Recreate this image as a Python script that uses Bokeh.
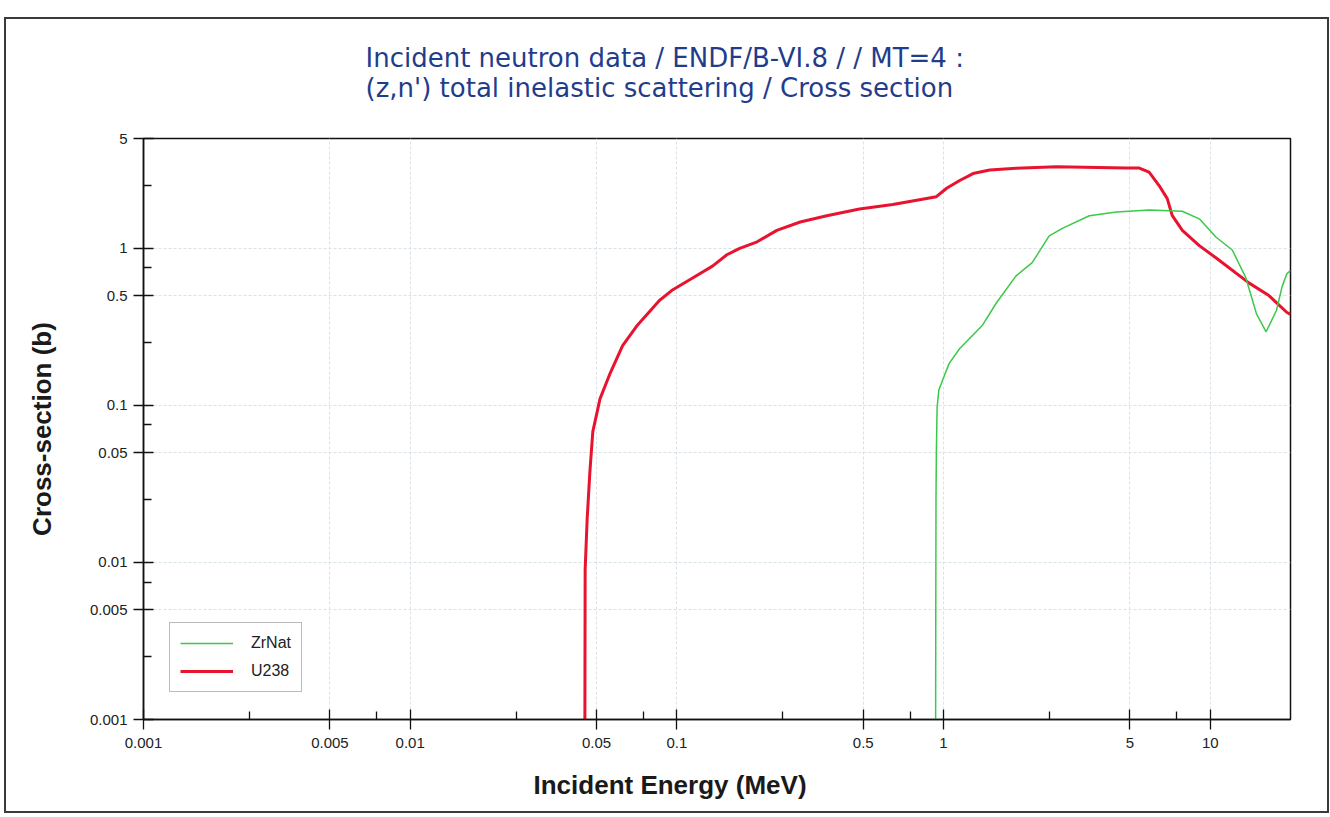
from bokeh.plotting import figure
from bokeh.models import FixedTicker, CustomJSTickFormatter, Legend, LegendItem, Title
from bokeh.embed import file_html
from bokeh.resources import INLINE

# ---------------- data ----------------
title_line1 = "Incident neutron data / ENDF/B-VI.8 / / MT=4 :"
title_line2 = "(z,n') total inelastic scattering / Cross section"
x_label = "Incident Energy (MeV)"
y_label = "Cross-section (b)"

x_major = [0.001, 0.005, 0.01, 0.05, 0.1, 0.5, 1, 5, 10]
x_minor = [0.0025, 0.0075, 0.025, 0.075, 0.25, 0.75, 2.5, 7.5]
y_major = [0.001, 0.005, 0.01, 0.05, 0.1, 0.5, 1, 5]
y_minor = [0.0025, 0.0075, 0.025, 0.075, 0.25, 0.75, 2.5]

# U238 (red)
u238_e = [0.0452, 0.0453, 0.0461, 0.0472, 0.0484, 0.0515, 0.0562, 0.0626, 0.0707,
          0.086, 0.0966, 0.115, 0.136, 0.154, 0.172, 0.2, 0.237, 0.29, 0.365, 0.484,
          0.645, 0.813, 0.94, 1.03, 1.15, 1.29, 1.49, 1.87, 2.65, 4.84, 5.42, 5.9,
          6.44, 6.9, 7.2, 7.86, 9.1, 10.5, 14.0, 16.6, 19.4, 20.0]
u238_xs = [0.001, 0.009, 0.019, 0.038, 0.068, 0.11, 0.16, 0.24, 0.32,
           0.465, 0.545, 0.65, 0.77, 0.91, 1.0, 1.1, 1.3, 1.47, 1.61, 1.78,
           1.9, 2.04, 2.13, 2.42, 2.7, 2.99, 3.15, 3.23, 3.3, 3.24, 3.24, 3.05,
           2.5, 2.07, 1.62, 1.3, 1.04, 0.87, 0.60, 0.50, 0.39, 0.38]

# ZrNat (green)
zr_e = [0.934, 0.935, 0.937, 0.940, 0.946, 0.96, 1.0, 1.05, 1.15, 1.40, 1.58, 1.87,
        2.15, 2.49, 2.79, 3.52, 4.45, 5.9, 7.85, 9.1, 10.5, 12.1, 13.6, 14.9, 16.2,
        17.7, 18.6, 19.4, 20.0]
zr_xs = [0.001, 0.004, 0.026, 0.05, 0.097, 0.125, 0.15, 0.185, 0.23, 0.324, 0.45, 0.667,
         0.81, 1.2, 1.34, 1.61, 1.70, 1.75, 1.72, 1.54, 1.18, 0.975, 0.65, 0.384, 0.294,
         0.40, 0.57, 0.69, 0.72]

FONT = "Liberation Sans"
EDGE = "#3a3a3a"

frame_css = {
    "background-image": ", ".join([f"linear-gradient({EDGE}, {EDGE})"] * 4),
    "background-position": "5px 17px, 5px 811px, 4px 17px, 1327px 17px",
    "background-size": "1324px 2px, 1324px 2px, 2px 796px, 2px 796px",
    "background-repeat": "no-repeat",
}

p = figure(width=1330, height=817, x_axis_type="log", y_axis_type="log",
           x_range=(0.001, 20), y_range=(0.001, 5),
           output_backend="svg", toolbar_location=None,
           min_border_left=143, min_border_right=40, min_border_top=138, min_border_bottom=97,
           styles=frame_css)
p.background_fill_color = "white"
p.border_fill_color = None
p.outline_line_color = "#111111"
p.outline_line_width = 1.5

fmt = CustomJSTickFormatter(code="return String(Number(tick.toPrecision(3)));")

for ax, maj, mnr in ((p.xaxis[0], x_major, x_minor), (p.yaxis[0], y_major, y_minor)):
    ax.ticker = FixedTicker(ticks=maj, minor_ticks=mnr)
    ax.formatter = fmt
    ax.axis_line_color = "#111111"
    ax.axis_line_width = 1.5
    ax.major_tick_line_color = "#111111"
    ax.minor_tick_line_color = "#111111"
    ax.major_tick_line_width = 1.3
    ax.minor_tick_line_width = 1.3
    ax.major_tick_in = 10
    ax.major_tick_out = 10
    ax.minor_tick_in = 8
    ax.minor_tick_out = 0
    ax.major_label_text_font = FONT
    ax.major_label_text_font_size = "15px"
    ax.major_label_text_color = "#222222"

p.xaxis.major_label_standoff = 8
p.yaxis.major_label_standoff = 6

p.yaxis.axis_label = y_label
p.yaxis.axis_label_text_font = FONT
p.yaxis.axis_label_text_font_size = "26px"
p.yaxis.axis_label_text_font_style = "bold"
p.yaxis.axis_label_text_color = "#1a1a1a"
p.yaxis.axis_label_standoff = 30

for g in (p.xgrid[0], p.ygrid[0]):
    g.grid_line_color = "#d8e3e8"
    g.grid_line_dash = "3 2"
    g.grid_line_width = 1

red = p.line(u238_e, u238_xs, line_color="#e8132f", line_width=3)
green = p.line(zr_e, zr_xs, line_color="#3cc84a", line_width=1.5)

legend = Legend(items=[LegendItem(label="ZrNat", renderers=[green]),
                       LegendItem(label="U238", renderers=[red])],
                location=(26, 27), border_line_color="#777777", border_line_width=1,
                padding=10, spacing=8, glyph_width=53, glyph_height=20,
                label_standoff=18, label_text_font=FONT, label_text_font_size="16px",
                label_text_color="#222222", margin=0, background_fill_alpha=1)
p.add_layout(legend)

# two-line title as one multi-line title
p.add_layout(Title(text=title_line1 + "\n" + title_line2, align="left", offset=222, standoff=70,
                   text_font="DejaVu Sans", text_font_size="26px", text_font_style="normal",
                   text_line_height=1.02, text_color="#1f3d8c"), "above")

# x axis title, placed below the axis
p.add_layout(Title(text=x_label, align="left", offset=390, standoff=35,
                   text_font=FONT, text_font_size="26px", text_font_style="bold",
                   text_color="#1a1a1a"), "below")

open("out.html", "w").write(file_html(p, INLINE))
